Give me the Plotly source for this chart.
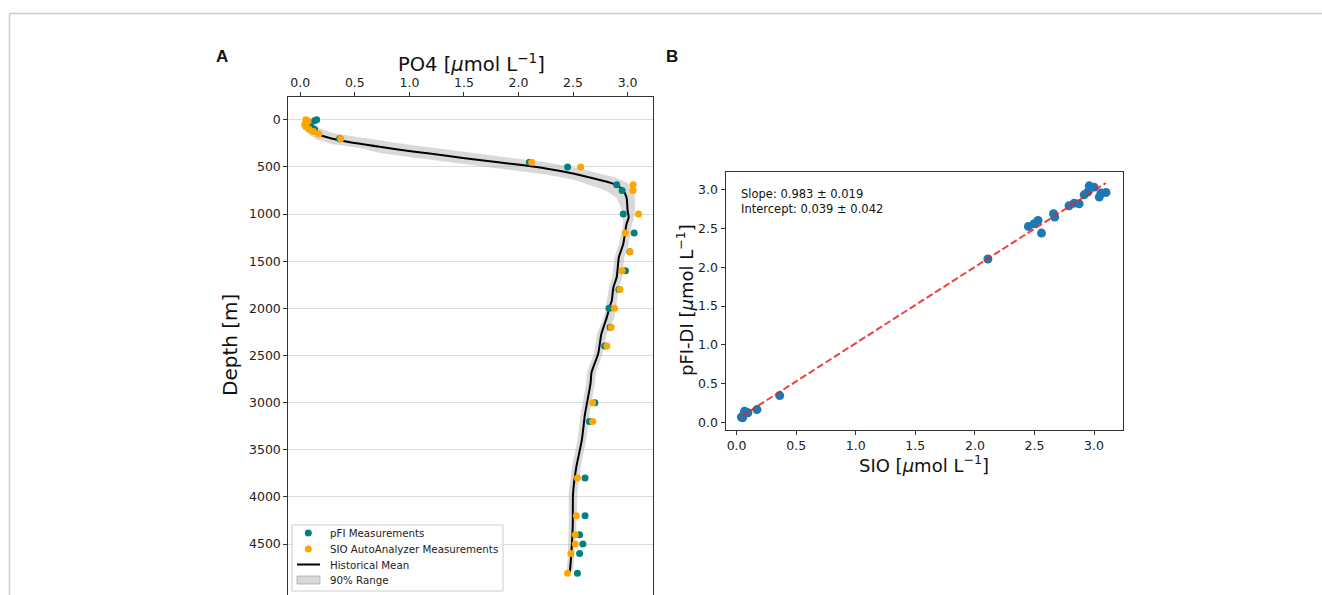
import numpy as np
import plotly.graph_objects as go

W, H = 1322, 595

# ---------------- Panel A data ----------------
pfi_depth = [0, 10, 75, 100, 200, 450, 500, 690, 750, 1000, 1200, 1400, 1600, 1800, 2000,
             2200, 2400, 3000, 3200, 3800, 4200, 4400, 4500, 4600, 4810]
pfi_po4 = [0.15, 0.13, 0.10, 0.13, 0.36, 2.10, 2.45, 2.90, 2.95, 2.96, 3.06, 3.02, 2.98, 2.92, 2.83,
           2.84, 2.79, 2.70, 2.65, 2.61, 2.61, 2.56, 2.59, 2.56, 2.54]

sio_depth = [0, 10, 25, 50, 75, 100, 125, 150, 200, 450, 500, 690, 750, 1000, 1200, 1400, 1600,
             1800, 2000, 2200, 2400, 3000, 3200, 3800, 4200, 4400, 4500, 4600, 4810]
sio_po4 = [0.05, 0.07, 0.06, 0.04, 0.05, 0.08, 0.12, 0.17, 0.37, 2.12, 2.57, 3.05, 3.05, 3.10, 2.98,
           3.02, 2.95, 2.93, 2.88, 2.85, 2.81, 2.68, 2.68, 2.54, 2.53, 2.52, 2.52, 2.48, 2.45]

mean_depth = [18, 88, 145, 194, 230, 286, 336, 381, 427, 469, 516, 569, 628, 675, 734, 823, 964,
              1035, 1105, 1317, 1458, 1670, 1776, 1917, 1970, 2093, 2270, 2482, 2676, 2799, 3117,
              3400, 3682, 3964, 4317, 4670, 4794]
mean_po4 = [0.087, 0.09, 0.14, 0.27, 0.42, 0.727, 1.03, 1.34, 1.64, 1.95, 2.25, 2.50, 2.71, 2.86,
            2.95, 2.99, 3.00, 3.01, 2.99, 2.96, 2.92, 2.90, 2.87, 2.855, 2.84, 2.81, 2.76, 2.73,
            2.67, 2.66, 2.61, 2.58, 2.53, 2.50, 2.497, 2.48, 2.47]

band_right_depth = [5, 60, 100, 140, 170, 221, 271, 316, 362, 404, 451, 504, 560, 610, 670, 760,
                    900, 1035, 1105, 1317, 1458, 1670, 1776, 1917, 2093, 2270, 2482, 2676, 2799,
                    3117, 3400, 3682, 3964, 4317, 4670, 4794]
band_right_po4 = [0.12, 0.13, 0.20, 0.30, 0.45, 0.727, 1.03, 1.34, 1.64, 1.95, 2.25, 2.50, 2.71,
                  2.88, 3.00, 3.06, 3.07, 3.06, 3.04, 3.01, 2.97, 2.95, 2.92, 2.90, 2.88, 2.81,
                  2.77, 2.71, 2.70, 2.65, 2.62, 2.57, 2.54, 2.53, 2.51, 2.50]
band_left_depth = [5, 90, 150, 210, 260, 300, 351, 401, 446, 492, 534, 581, 634, 690, 750, 830,
                   964, 1105, 1317, 1458, 1670, 1776, 1917, 2093, 2270, 2482, 2676, 2799, 3117,
                   3400, 3682, 3964, 4317, 4670, 4794]
band_left_po4 = [0.05, 0.04, 0.07, 0.15, 0.30, 0.55, 0.727, 1.03, 1.34, 1.64, 1.95, 2.25, 2.50,
                 2.65, 2.80, 2.90, 2.95, 2.96, 2.92, 2.88, 2.86, 2.83, 2.81, 2.78, 2.72, 2.69,
                 2.63, 2.62, 2.57, 2.54, 2.49, 2.46, 2.46, 2.45, 2.44]

depth_ticks = [0, 500, 1000, 1500, 2000, 2500, 3000, 3500, 4000, 4500]
po4_ticks = [0.0, 0.5, 1.0, 1.5, 2.0, 2.5, 3.0]

legend_labels = ["pFI Measurements", "SIO AutoAnalyzer Measurements", "Historical Mean", "90% Range"]

# ---------------- Panel B data ----------------
sio_x = [0.04, 0.05, 0.053, 0.067, 0.095, 0.08, 0.171, 0.362, 2.109, 2.449, 2.497, 2.53, 2.559,
         2.66, 2.67, 2.79, 2.833, 2.875, 2.917, 2.946, 2.96, 3.0, 3.044, 3.058, 3.1]
pfi_y = [0.07, 0.06, 0.081, 0.145, 0.125, 0.13, 0.167, 0.347, 2.107, 2.527, 2.561, 2.604, 2.441,
         2.69, 2.647, 2.793, 2.827, 2.818, 2.934, 2.969, 3.05, 3.033, 2.905, 2.956, 2.964]
slope, slope_err = 0.983, 0.019
intercept, intercept_err = 0.039, 0.042
b_ticks = [0.0, 0.5, 1.0, 1.5, 2.0, 2.5, 3.0]

TEAL = "#008080"
ORANGE = "#FFA500"
BAND = "rgba(170,170,170,0.45)"


def px(x):
    return x / W


def py(y):
    return 1 - y / H


FONT = "DejaVu Sans"
fig = go.Figure()

# band polygon
band_x = band_right_po4 + band_left_po4[::-1]
band_y = band_right_depth + band_left_depth[::-1]
fig.add_trace(go.Scatter(x=band_x, y=band_y, fill="toself", fillcolor=BAND,
                         line=dict(width=0), mode="lines", name=legend_labels[3],
                         xaxis="x", yaxis="y", showlegend=False, hoverinfo="skip"))
fig.add_trace(go.Scatter(x=mean_po4, y=mean_depth, mode="lines",
                         line=dict(color="black", width=2, shape="spline", smoothing=0.6),
                         name=legend_labels[2], xaxis="x", yaxis="y", showlegend=False))
fig.add_trace(go.Scatter(x=pfi_po4, y=pfi_depth, mode="markers",
                         marker=dict(color=TEAL, size=7, line=dict(width=0)),
                         name=legend_labels[0], xaxis="x", yaxis="y", showlegend=False))
fig.add_trace(go.Scatter(x=sio_po4, y=sio_depth, mode="markers",
                         marker=dict(color=ORANGE, size=7, line=dict(width=0)),
                         name=legend_labels[1], xaxis="x", yaxis="y", showlegend=False))

# Panel B
fig.add_trace(go.Scatter(x=sio_x, y=pfi_y, mode="markers",
                         marker=dict(color="#1f77b4", size=9, line=dict(width=0)),
                         showlegend=False, xaxis="x2", yaxis="y2"))
fit_x = np.array([min(sio_x), max(sio_x)])
fig.add_trace(go.Scatter(x=fit_x, y=slope * fit_x + intercept, mode="lines",
                         line=dict(color="rgba(240,30,30,0.85)", width=2, dash="7px,3px"),
                         showlegend=False, xaxis="x2", yaxis="y2"))

tickfont = dict(family=FONT, size=12.5, color="#222")
axcommon = dict(showline=True, linecolor="#333", linewidth=1, ticks="outside", ticklen=4,
                tickcolor="#333", tickfont=tickfont, zeroline=False)

fig.update_layout(
    width=W, height=H, margin=dict(l=0, r=0, t=0, b=0),
    paper_bgcolor="white", plot_bgcolor="white",
    font=dict(family=FONT, color="#222"),
    xaxis=dict(domain=[px(288.3), px(652.7)], range=[-0.11, 3.23], side="top", anchor="y",
               tickvals=po4_ticks, ticktext=[f"{v:.1f}" for v in po4_ticks], showgrid=False,
               mirror=False, **axcommon),
    yaxis=dict(domain=[0, py(96.7)], range=[5040, -245], anchor="x",
               tickvals=depth_ticks, ticktext=[str(v) for v in depth_ticks],
               showgrid=True, gridcolor="#dcdcdc", gridwidth=1, mirror=True, **axcommon),
    xaxis2=dict(domain=[px(725.5), px(1123)], range=[-0.093, 3.243], anchor="y2",
                tickvals=b_ticks, ticktext=[f"{v:.1f}" for v in b_ticks], showgrid=False,
                mirror=True, **axcommon),
    yaxis2=dict(domain=[py(429.5), py(171.7)], range=[-0.09, 3.232], anchor="x2",
                tickvals=b_ticks, ticktext=[f"{v:.1f}" for v in b_ticks], showgrid=False,
                mirror=True, **axcommon),
    showlegend=False,
)

ann = []
ann.append(dict(x=px(222), y=py(57), text="<b>A</b>", font=dict(family="Liberation Sans", size=17, color="#111")))
ann.append(dict(x=px(672), y=py(57), text="<b>B</b>", font=dict(family="Liberation Sans", size=17, color="#111")))
ann.append(dict(x=px(471), y=py(63), text="PO4 [<i>μ</i>mol L<sup>−1</sup>]",
                font=dict(family=FONT, size=19.5, color="#111")))
ann.append(dict(x=px(230), y=py(345), text="Depth [m]", textangle=-90,
                font=dict(family=FONT, size=20, color="#111")))
ann.append(dict(x=px(924), y=py(464), text="SIO [<i>μ</i>mol L<sup>−1</sup>]",
                font=dict(family=FONT, size=18, color="#111")))
ann.append(dict(x=px(685), y=py(300), text="pFI-DI [<i>μ</i>mol L<sup>−1</sup>]", textangle=-90,
                font=dict(family=FONT, size=18, color="#111")))
ann.append(dict(x=px(739), y=py(194), xanchor="left",
                text=f"Slope: {slope:.3f} ± {slope_err:.3f}",
                font=dict(family=FONT, size=11.5, color="#111")))
ann.append(dict(x=px(739), y=py(209), xanchor="left",
                text=f"Intercept: {intercept:.3f} ± {intercept_err:.3f}",
                font=dict(family=FONT, size=11.5, color="#111")))

# legend (drawn manually to match compact matplotlib spacing)
leg_y = [533, 549, 564.5, 580]
for lab, yy in zip(legend_labels, leg_y):
    ann.append(dict(x=px(327.5), y=py(yy), xanchor="left", text=lab,
                    font=dict(family=FONT, size=10.25, color="#222")))

for a in ann:
    a.setdefault("xanchor", "center")
    a.update(xref="paper", yref="paper", showarrow=False, yanchor="middle")
fig.update_layout(annotations=ann)

shapes = [
    # outer frame (top and left edges)
    dict(type="line", xref="paper", yref="paper", x0=px(9.5), x1=1.0, y0=py(13.5), y1=py(13.5),
         line=dict(color="#cccccc", width=1.5)),
    dict(type="line", xref="paper", yref="paper", x0=px(9.5), x1=px(9.5), y0=0, y1=py(13.5),
         line=dict(color="#cccccc", width=1.5)),
    # legend box
    dict(type="rect", xref="paper", yref="paper", x0=px(292), x1=px(503), y0=py(591), y1=py(525),
         line=dict(color="#cccccc", width=1), fillcolor="rgba(255,255,255,0.85)"),
    dict(type="circle", xref="paper", yref="paper", x0=px(304.8), x1=px(311.8),
         y0=py(leg_y[0] + 3.5), y1=py(leg_y[0] - 3.5), line=dict(width=0), fillcolor=TEAL),
    dict(type="circle", xref="paper", yref="paper", x0=px(304.8), x1=px(311.8),
         y0=py(leg_y[1] + 3.5), y1=py(leg_y[1] - 3.5), line=dict(width=0), fillcolor=ORANGE),
    dict(type="line", xref="paper", yref="paper", x0=px(297), x1=px(320),
         y0=py(leg_y[2]), y1=py(leg_y[2]), line=dict(color="black", width=2)),
    dict(type="rect", xref="paper", yref="paper", x0=px(297), x1=px(320),
         y0=py(leg_y[3] + 4), y1=py(leg_y[3] - 4), line=dict(color="rgba(150,150,150,0.6)", width=1),
         fillcolor=BAND),
]
fig.update_layout(shapes=shapes)

fig.write_html("out.html", config={"displayModeBar": False},
               post_script="document.body.style.margin='0';document.body.style.overflow='hidden';")
